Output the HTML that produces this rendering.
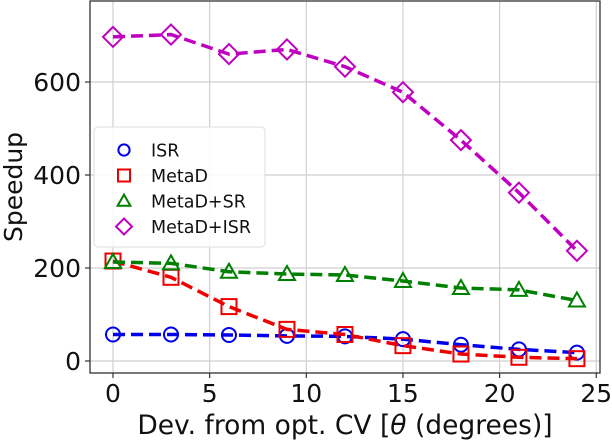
<!DOCTYPE html>
<html><head><meta charset="utf-8"><style>
html,body{margin:0;padding:0;background:#fff;}
svg{display:block;font-family:"DejaVu Sans","Liberation Sans",sans-serif;}
</style></head><body>
<svg id="chart" width="612" height="441" viewBox="0 0 612 441"></svg>
<script>
const xValues=[0,3,6,9,12,15,18,21,24];
const isrValues=[57,57,56,54,53,47,35,25,18];
const metadValues=[215,180,117,68,57,33,15,8,5];
const metadSrValues=[213,210,192,187,185,172,157,153,130];
const metadIsrValues=[697,702,660,670,633,578,475,362,237];
const xTicks=[0,5,10,15,20,25];
const yTicks=[0,200,400,600];
const seriesNames=["ISR","MetaD","MetaD+SR","MetaD+ISR"];

const NS="http://www.w3.org/2000/svg";
const svg=document.getElementById('chart');
const L=90,R=600,T=1,B=373;
function xs(v){return 113+v*19.33;}
function ys(v){return 361-v*0.465;}
function mk(tag,attrs,parent){const e=document.createElementNS(NS,tag);for(const k in attrs)e.setAttribute(k,attrs[k]);(parent||svg).appendChild(e);return e;}

const grid=mk('g',{});


xTicks.forEach(t=>{
  const l=mk('line',{x1:xs(t),x2:xs(t),y1:T,y2:B,stroke:'#cfcfcf','stroke-width':1.2},grid);
  
  
  const tk=mk('line',{x1:xs(t),x2:xs(t),y1:B,y2:B+5,stroke:'#333','stroke-width':1.2});
  
  
  const tx=mk('text',{x:xs(t),y:402,'font-size':25,'text-anchor':'middle',fill:'#111'});
  tx.textContent=t;
  
  
});
yTicks.forEach(t=>{
  const l=mk('line',{x1:L,x2:R,y1:ys(t),y2:ys(t),stroke:'#cfcfcf','stroke-width':1.2},grid);
  
  
  const tk=mk('line',{x1:L-5,x2:L,y1:ys(t),y2:ys(t),stroke:'#333','stroke-width':1.2});
  
  
  const tx=mk('text',{x:81,y:ys(t)+9,'font-size':25,'text-anchor':'end',fill:'#111'});
  tx.textContent=t;
  
  
});
const frame=mk('rect',{x:L,y:T,width:R-L,height:B-T,fill:'none',stroke:'#333','stroke-width':1.3});



function marker(g,type,cx,cy,color,s){
  s=s||1;let e;
  if(type==='o')e=mk('circle',{cx:cx,cy:cy,r:7*s,fill:'none',stroke:color,'stroke-width':2},g);
  else if(type==='s')e=mk('rect',{x:cx-7.5*s,y:cy-7.5*s,width:15*s,height:15*s,fill:'none',stroke:color,'stroke-width':2},g);
  else if(type==='^')e=mk('polygon',{points:`${cx},${cy-8*s} ${cx-8*s},${cy+6*s} ${cx+8*s},${cy+6*s}`,fill:'none',stroke:color,'stroke-width':2},g);
  else e=mk('polygon',{points:`${cx},${cy-10*s} ${cx+10*s},${cy} ${cx},${cy+10*s} ${cx-10*s},${cy}`,fill:'none',stroke:color,'stroke-width':2},g);
  return e;
}
const series=[[isrValues,'#0000ee','o','isr'],[metadValues,'#ee0000','s','metad'],[metadSrValues,'#008000','^','metad-sr'],[metadIsrValues,'#c000c0','D','metad-isr']];
series.forEach(([vals,color,type,name])=>{
  const g=mk('g',{});
  
  
  const p=mk('polyline',{points:vals.map((v,i)=>xs(xValues[i])+','+ys(v)).join(' '),fill:'none',stroke:color,'stroke-width':3.5,'stroke-dasharray':'12 6'},g);
  
  
  vals.forEach((v,i)=>{
    const m=marker(g,type,xs(xValues[i]),ys(v),color);
    
    
  });
});

const xt=mk('text',{x:345,y:434,'font-size':26.5,'text-anchor':'middle',fill:'#111'});
xt.innerHTML='Dev. from opt. CV [<tspan font-style="italic">θ</tspan> (degrees)]';


const yt=mk('text',{x:0,y:0,'font-size':25,'text-anchor':'middle',fill:'#111',transform:'translate(22,187) rotate(-90)'});
yt.textContent='Speedup';



const lg=mk('g',{});


const lb=mk('rect',{x:94,y:127,width:171,height:120,rx:4,fill:'rgba(255,255,255,0.85)',stroke:'#ddd','stroke-width':1},lg);


series.forEach(([vals,color,type,name],i)=>{
  const cy=150+i*25.5;
  const m=marker(lg,type,124,cy,color,0.8);
  
  
  const t=mk('text',{x:151,y:cy+6.5,'font-size':17.5,fill:'#111'},lg);
  t.textContent=seriesNames[i];
  
  
});
</script>
</body></html>
